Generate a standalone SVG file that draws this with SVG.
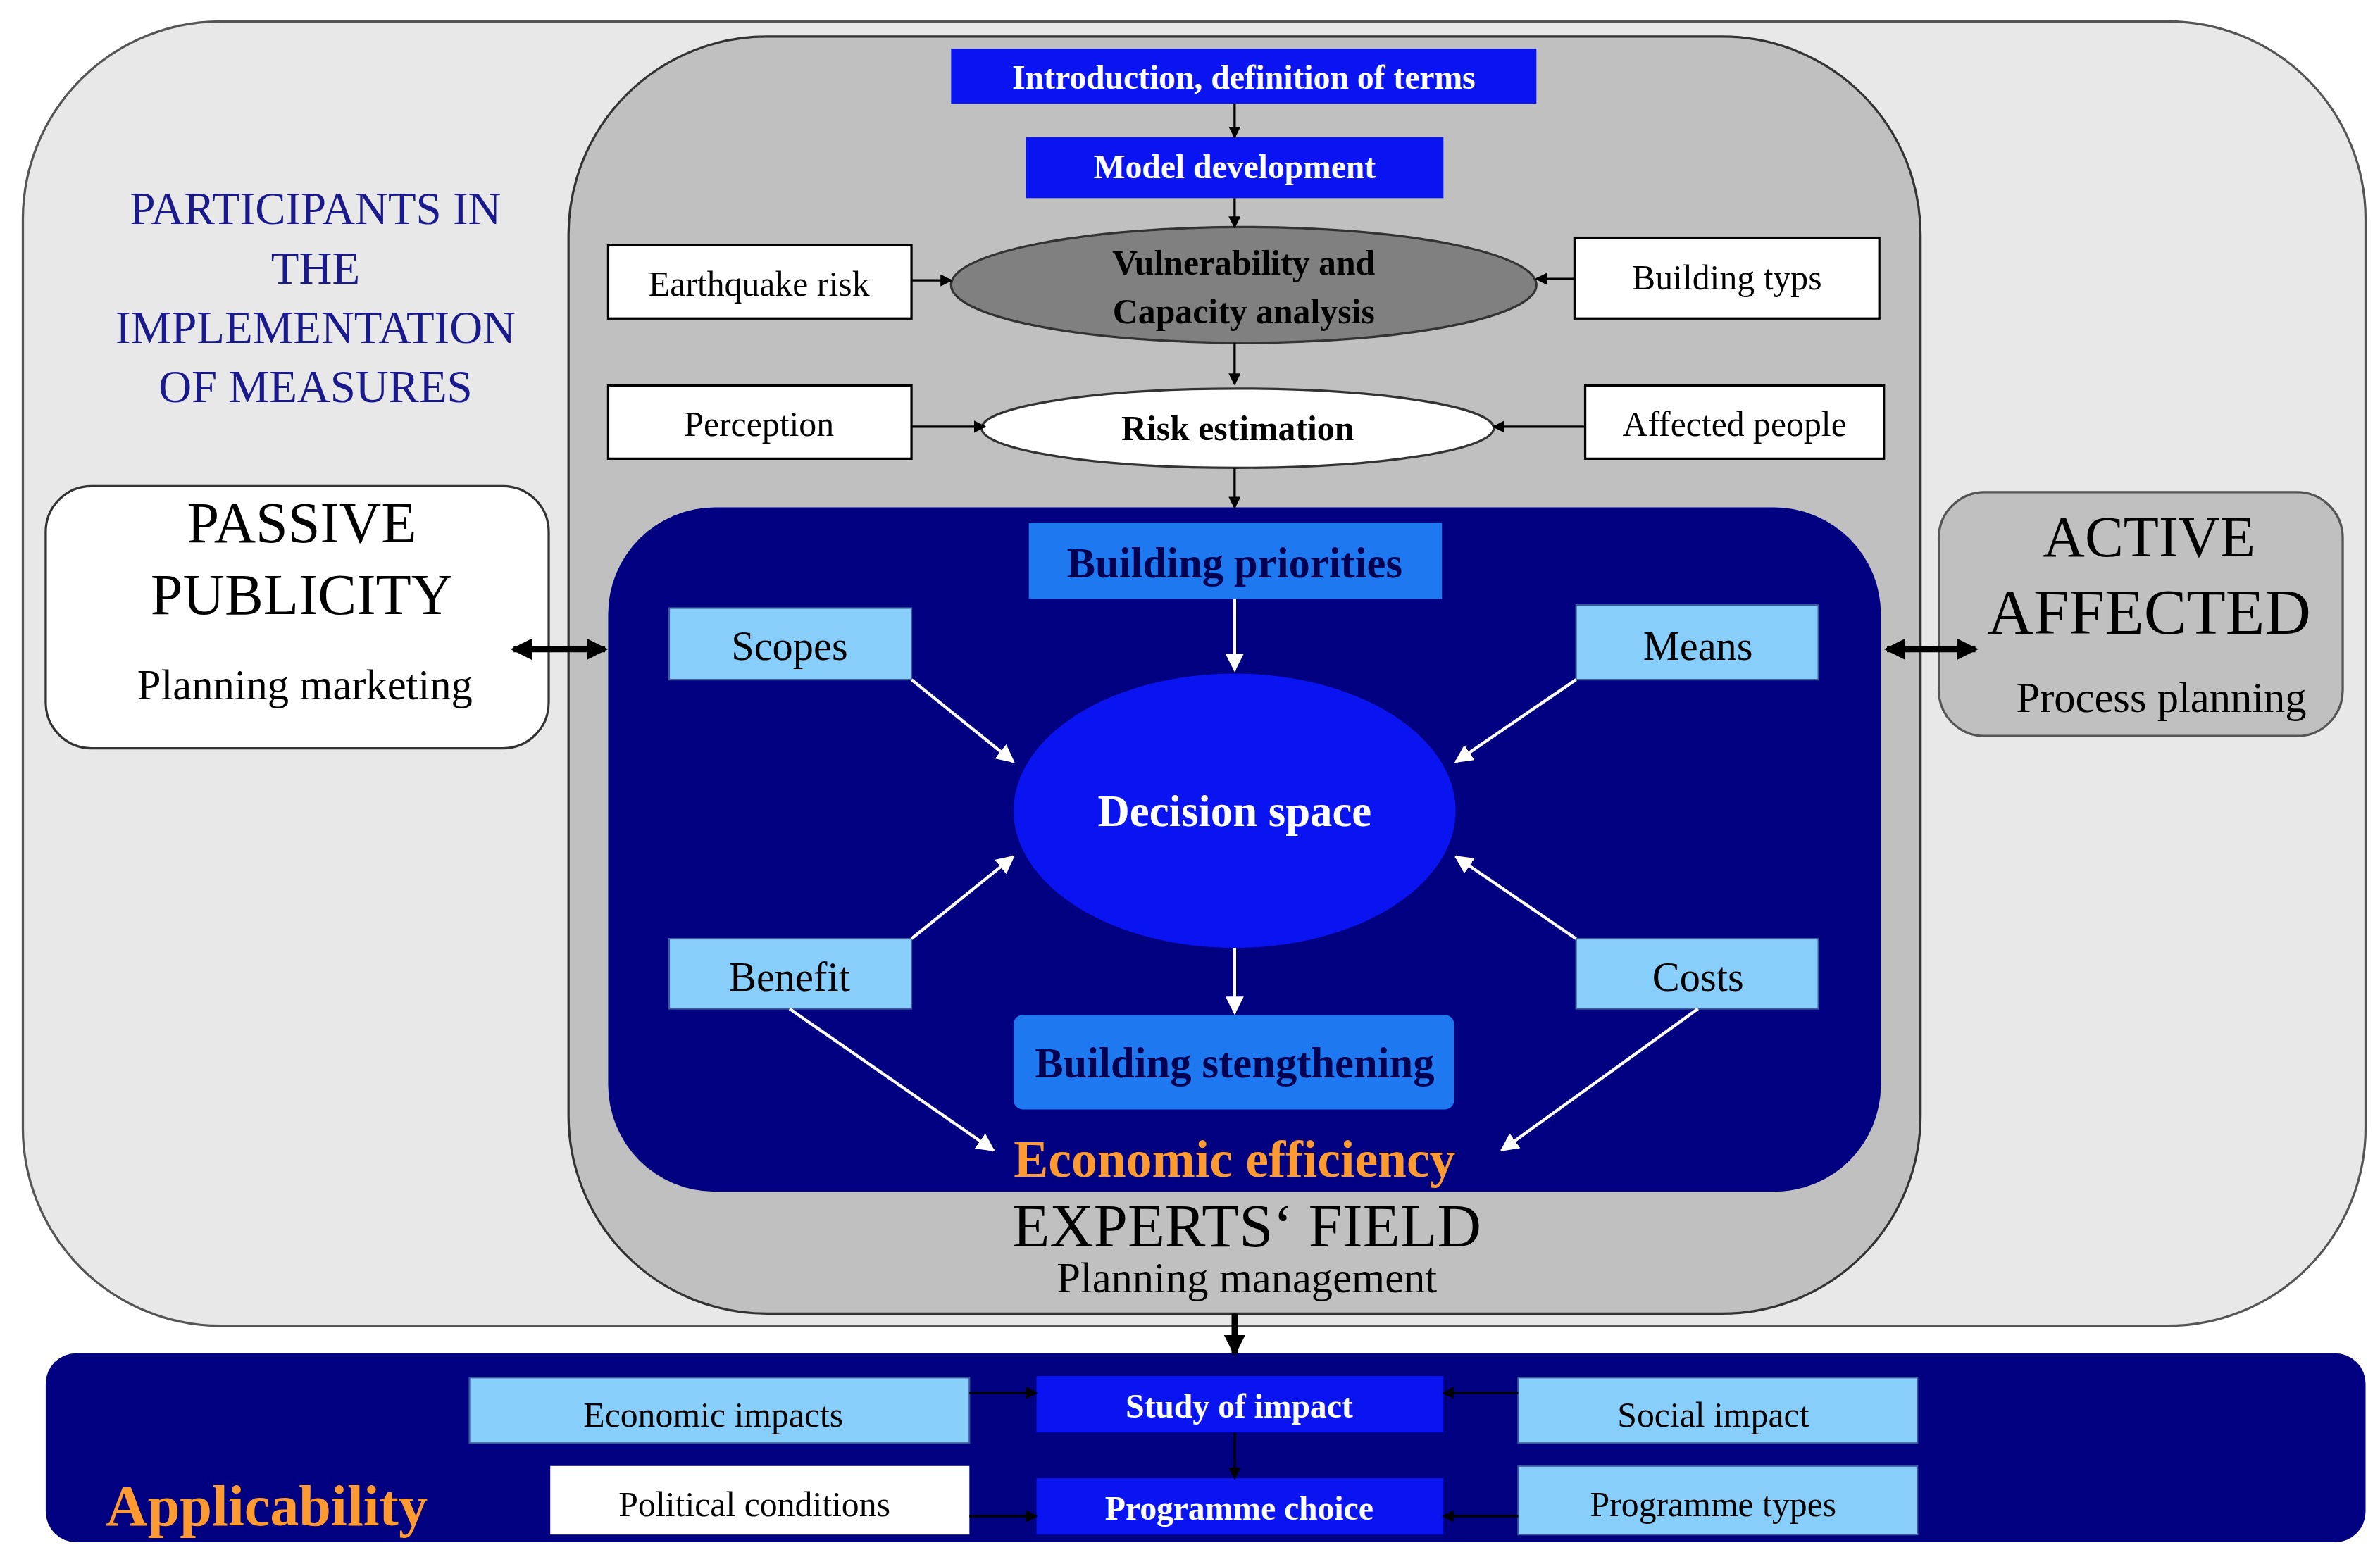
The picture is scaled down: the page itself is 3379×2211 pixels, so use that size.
<svg xmlns="http://www.w3.org/2000/svg" width="3379" height="2211" viewBox="0 0 3379 2211">
<defs>
<marker id="ab" markerWidth="8" markerHeight="8" refX="7" refY="4" orient="auto" markerUnits="userSpaceOnUse"><path d="M0,0 L8,4 L0,8 z" fill="#000"/></marker>
<marker id="aw" markerWidth="12" markerHeight="12" refX="11" refY="6" orient="auto" markerUnits="userSpaceOnUse"><path d="M0,0 L12,6 L0,12 z" fill="#fff"/></marker>
<marker id="abig" markerWidth="14" markerHeight="14" refX="12" refY="7" orient="auto" markerUnits="userSpaceOnUse"><path d="M0,0 L14,7 L0,14 z" fill="#000"/></marker>
<marker id="abigs" markerWidth="14" markerHeight="14" refX="2" refY="7" orient="auto" markerUnits="userSpaceOnUse"><path d="M14,0 L0,7 L14,14 z" fill="#000"/></marker>
</defs>
<style>
text{font-family:"Liberation Serif","Times New Roman",serif;text-anchor:middle}
.w{fill:#fff;stroke:#000;stroke-width:1.5}
.lb{fill:#87cefa;stroke:#3a5a9a;stroke-width:1}
.bl{fill:#0a14f0}
.t{font-size:23px;fill:#000}
.tw{font-size:22px;fill:#fff;font-weight:bold}
.tl{font-size:27px;fill:#000}
.bk{stroke:#000;stroke-width:1.5;fill:none}
.wh{stroke:#fff;stroke-width:2;fill:none}
</style>
<rect width="3379" height="2211" fill="#fff"/>
<g transform="scale(2.164)">
<g id="outer"><rect x="15" y="14" width="1537" height="856" rx="130" fill="#e8e8e8" stroke="#555" stroke-width="1.5"/>
<text x="207" y="147" font-size="30" fill="#1a1a8c">PARTICIPANTS IN</text>
<text x="207" y="186" font-size="30" fill="#1a1a8c">THE</text>
<text x="207" y="225" font-size="30" fill="#1a1a8c">IMPLEMENTATION</text>
<text x="207" y="264" font-size="30" fill="#1a1a8c">OF MEASURES</text></g>
<g id="experts"><rect x="373" y="24" width="887" height="838" rx="130" fill="#c0c0c0" stroke="#333" stroke-width="1.5"/>
<text x="818" y="818" font-size="40" fill="#000">EXPERTS‘ FIELD</text>
<text x="818" y="848" font-size="28" fill="#000">Planning management</text></g>
<g id="intro"><rect class="bl" x="624" y="32" width="384" height="36"/><text class="tw" x="816" y="58">Introduction, definition of terms</text></g>
<g id="model"><rect class="bl" x="673" y="90" width="274" height="40"/><text class="tw" x="810" y="117">Model development</text></g>
<g id="vuln"><ellipse cx="816" cy="187" rx="192" ry="38" fill="#808080" stroke="#333" stroke-width="1.5"/><text class="t" font-weight="bold" x="816" y="180">Vulnerability and</text><text class="t" font-weight="bold" x="816" y="212">Capacity analysis</text></g>
<g id="eq"><rect class="w" x="399" y="161" width="199" height="48"/><text class="t" x="498" y="194">Earthquake risk</text></g>
<g id="bt"><rect class="w" x="1033" y="156" width="200" height="53"/><text class="t" x="1133" y="190">Building typs</text></g>
<g id="risk"><ellipse cx="812" cy="281" rx="168" ry="26" fill="#fff" stroke="#333" stroke-width="1.5"/><text class="t" font-weight="bold" x="812" y="289">Risk estimation</text></g>
<g id="perc"><rect class="w" x="399" y="253" width="199" height="48"/><text class="t" x="498" y="286">Perception</text></g>
<g id="aff"><rect class="w" x="1040" y="253" width="196" height="48"/><text class="t" x="1138" y="286">Affected people</text></g>
<g id="navy"><rect x="399" y="333" width="835" height="449" rx="70" fill="#000080"/>
<text x="810" y="772" font-size="34" font-weight="bold" fill="#ff9a30">Economic efficiency</text></g>
<g id="prio"><rect x="675" y="343" width="271" height="50" fill="#1e78f0"/><text x="810" y="379" font-size="28" font-weight="bold" fill="#000050">Building priorities</text></g>
<g id="scopes"><rect class="lb" x="439" y="399" width="159" height="47"/><text class="tl" x="518" y="433">Scopes</text></g>
<g id="means"><rect class="lb" x="1034" y="397" width="159" height="49"/><text class="tl" x="1114" y="433">Means</text></g>
<g id="decision"><ellipse class="bl" cx="810" cy="532" rx="145" ry="90"/><text x="810" y="542" font-size="29" font-weight="bold" fill="#fff">Decision space</text></g>
<g id="benefit"><rect class="lb" x="439" y="616" width="159" height="46"/><text class="tl" x="518" y="650">Benefit</text></g>
<g id="costs"><rect class="lb" x="1034" y="616" width="159" height="46"/><text class="tl" x="1114" y="650">Costs</text></g>
<g id="streng"><rect x="665" y="666" width="289" height="62" rx="6" fill="#1e78f0"/><text x="810" y="707" font-size="28" font-weight="bold" fill="#000050">Building stengthening</text></g>
<g id="passive"><rect x="30" y="319" width="330" height="172" rx="30" fill="#fff" stroke="#333" stroke-width="1.5"/>
<text x="198" y="356" font-size="38">PASSIVE</text><text x="198" y="403" font-size="38">PUBLICITY</text><text x="200" y="459" font-size="28">Planning marketing</text></g>
<g id="active"><rect x="1272" y="323" width="265" height="160" rx="30" fill="#c0c0c0" stroke="#555" stroke-width="1.5"/>
<text x="1410" y="365" font-size="38">ACTIVE</text><text x="1410" y="416" font-size="42">AFFECTED</text><text x="1418" y="467" font-size="28">Process planning</text></g>
<g id="bottom"><rect x="30" y="888" width="1522" height="124" rx="20" fill="#000080"/>
<text x="175" y="1001" font-size="38" font-weight="bold" fill="#ff9a30">Applicability</text></g>
<g id="econ"><rect class="lb" x="308" y="904" width="328" height="43"/><text class="t" x="468" y="936">Economic impacts</text></g>
<g id="study"><rect class="bl" x="680" y="903" width="267" height="37"/><text class="tw" x="813" y="930">Study of impact</text></g>
<g id="social"><rect class="lb" x="996" y="904" width="262" height="43"/><text class="t" x="1124" y="936">Social impact</text></g>
<g id="pol"><rect fill="#fff" x="361" y="962" width="275" height="45"/><text class="t" x="495" y="995">Political conditions</text></g>
<g id="choice"><rect class="bl" x="680" y="970" width="267" height="37"/><text class="tw" x="813" y="997">Programme choice</text></g>
<g id="ptypes"><rect class="lb" x="996" y="962" width="262" height="45"/><text class="t" x="1124" y="995">Programme types</text></g>
<g id="connectors">
<line class="bk" x1="810" y1="68" x2="810" y2="90" marker-end="url(#ab)"/>
<line class="bk" x1="810" y1="130" x2="810" y2="149" marker-end="url(#ab)"/>
<line class="bk" x1="598" y1="184" x2="624" y2="184" marker-end="url(#ab)"/>
<line class="bk" x1="1033" y1="183" x2="1008" y2="183" marker-end="url(#ab)"/>
<line class="bk" x1="810" y1="225" x2="810" y2="252" marker-end="url(#ab)"/>
<line class="bk" x1="598" y1="280" x2="646" y2="280" marker-end="url(#ab)"/>
<line class="bk" x1="1040" y1="280" x2="980" y2="280" marker-end="url(#ab)"/>
<line class="bk" x1="810" y1="307" x2="810" y2="333" marker-end="url(#ab)"/>
<line class="wh" x1="810" y1="393" x2="810" y2="440" marker-end="url(#aw)"/>
<line class="wh" x1="598" y1="446" x2="665" y2="500" marker-end="url(#aw)"/>
<line class="wh" x1="1034" y1="446" x2="955" y2="500" marker-end="url(#aw)"/>
<line class="wh" x1="598" y1="616" x2="665" y2="562" marker-end="url(#aw)"/>
<line class="wh" x1="1034" y1="616" x2="955" y2="562" marker-end="url(#aw)"/>
<line class="wh" x1="810" y1="622" x2="810" y2="665" marker-end="url(#aw)"/>
<line class="wh" x1="518" y1="662" x2="652" y2="755" marker-end="url(#aw)"/>
<line class="wh" x1="1114" y1="662" x2="985" y2="755" marker-end="url(#aw)"/>
<line stroke="#000" stroke-width="4" x1="337" y1="426" x2="397" y2="426" marker-start="url(#abigs)" marker-end="url(#abig)"/>
<line stroke="#000" stroke-width="4" x1="1238" y1="426" x2="1296" y2="426" marker-start="url(#abigs)" marker-end="url(#abig)"/>
<line stroke="#000" stroke-width="4" x1="810" y1="862" x2="810" y2="888" marker-end="url(#abig)"/>
<line class="bk" x1="636" y1="914" x2="680" y2="914" marker-end="url(#ab)"/>
<line class="bk" x1="996" y1="914" x2="947" y2="914" marker-end="url(#ab)"/>
<line class="bk" x1="810" y1="940" x2="810" y2="970" marker-end="url(#ab)"/>
<line class="bk" x1="636" y1="995" x2="680" y2="995" marker-end="url(#ab)"/>
<line class="bk" x1="996" y1="995" x2="947" y2="995" marker-end="url(#ab)"/>
</g>
</g>
</svg>
